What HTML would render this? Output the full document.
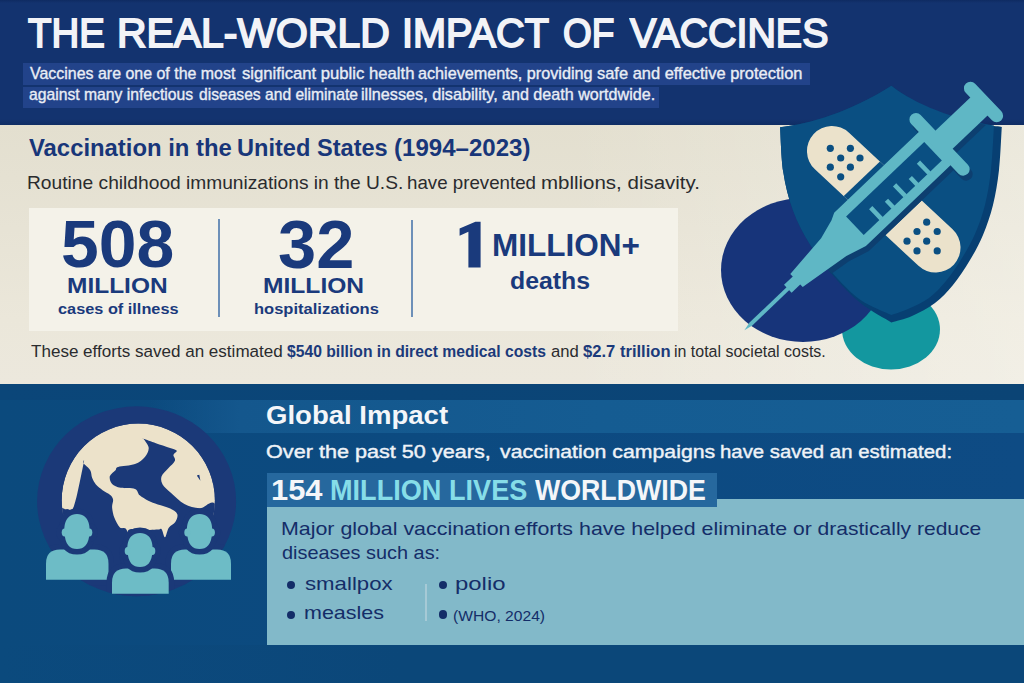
<!DOCTYPE html>
<html><head><meta charset="utf-8"><title>The Real-World Impact of Vaccines</title>
<style>
html,body{margin:0;padding:0;}
body{width:1024px;height:683px;overflow:hidden;position:relative;font-family:'Liberation Sans', sans-serif;background:#e5e1d2;}
.abs{position:absolute;}
.t{position:absolute;white-space:nowrap;line-height:1;transform-origin:0 0;}
.t b{font-weight:700;}
</style></head><body>
<div class="abs" style="left:0;top:0;width:1024px;height:125px;background:linear-gradient(180deg,#0f2b62 0px,#13336f 3px,#13336f 119px,#0f2d64 125px)"></div>
<div class="abs" style="left:23px;top:63px;width:787px;height:22px;background:#22438a"></div>
<div class="abs" style="left:23px;top:87px;width:636px;height:20.5px;background:#22438a"></div>
<div class="abs" style="left:0;top:125px;width:1024px;height:259px;background:linear-gradient(180deg,#e3dfcf 0%,#e7e3d5 40%,#ebe7da 75%,#ece8dd 100%)"></div>
<div class="abs" style="left:0;top:125px;width:1024px;height:259px;background:linear-gradient(90deg,rgba(255,255,250,0) 55%,rgba(255,255,250,0.3) 100%)"></div>
<div class="abs" style="left:29px;top:208px;width:649px;height:123px;background:#f4f2e9"></div>
<div class="abs" style="left:218.3px;top:219px;width:2px;height:98px;background:#6d90b8"></div>
<div class="abs" style="left:410.7px;top:219.6px;width:2px;height:97px;background:#6d90b8"></div>
<div class="abs" style="left:0;top:384px;width:1024px;height:299px;background:linear-gradient(90deg,#0b4a7d 0%,#0c4a80 40%,#0e4b84 100%)"></div>
<div class="abs" style="left:0;top:384px;width:1024px;height:16px;background:linear-gradient(90deg,#0b4679 0%,#0b4577 40%,#0b4475 100%)"></div>
<div class="abs" style="left:0;top:400px;width:1024px;height:33px;background:linear-gradient(90deg,rgba(21,93,147,0) 0px,rgba(21,93,147,0) 150px,#14578d 240px,#155c92 600px,#165e94 1024px)"></div>
<div class="abs" style="left:267px;top:499px;width:757px;height:146px;background:#82b9c9"></div>
<div class="abs" style="left:267px;top:472.5px;width:449.5px;height:34px;background:#26689e"></div>
<div class="abs" style="left:0;top:644.5px;width:1024px;height:39px;background:linear-gradient(90deg,rgba(11,73,124,0) 0px,rgba(11,71,121,0.6) 260px,#0b4779 400px,#0b4779 1024px)"></div>
<div class="abs" style="left:425px;top:584px;width:1.5px;height:37px;background:#a6cad6"></div>
<div class="abs" style="left:287px;top:580.7px;width:8.2px;height:8.2px;border-radius:50%;background:#142d68"></div>
<div class="abs" style="left:287px;top:610.7px;width:8.2px;height:8.2px;border-radius:50%;background:#142d68"></div>
<div class="abs" style="left:438.9px;top:580.7px;width:8.2px;height:8.2px;border-radius:50%;background:#142d68"></div>
<div class="abs" style="left:438.9px;top:610.4px;width:8.2px;height:8.2px;border-radius:50%;background:#142d68"></div>
<svg class="abs" style="left:0;top:0" width="1024" height="683" viewBox="0 0 1024 683">
<defs><clipPath id="gInner"><circle cx="138.3" cy="500.2" r="76.6"/></clipPath><clipPath id="gOuter"><ellipse cx="136.6" cy="501.3" rx="99.5" ry="95"/></clipPath></defs>
<ellipse cx="136.6" cy="501.3" rx="99.5" ry="95" fill="#1b3978"/>
<g clip-path="url(#gInner)">
<circle cx="138.3" cy="500.2" r="76.6" fill="#ece2ca"/>
<g fill="#1b3978"><path d="M55.0,511.1 C56.9,501.5 63.2,510.1 66.4,509.2 C69.6,508.4 71.2,513.6 74.0,506.0 C76.9,498.4 82.0,470.6 83.6,463.5 C85.1,456.5 82.4,462.4 83.6,463.5 C84.7,464.7 88.8,467.8 90.2,470.2 C91.6,472.6 91.2,475.4 92.1,477.8 C93.1,480.2 94.2,482.4 95.9,484.5 C97.7,486.5 100.2,488.5 102.6,490.2 C105.0,491.9 108.5,493.4 110.2,495.0 C112.0,496.5 112.7,497.7 113.1,499.7 C113.4,501.8 111.9,504.3 112.1,507.3 C112.3,510.3 113.1,514.5 114.4,517.8 C115.7,521.1 117.6,524.9 119.7,527.3 C121.9,529.7 126.1,525.4 127.3,532.1 C128.6,538.7 139.4,561.4 127.3,567.3 C115.3,573.2 67.1,576.7 55.0,567.3 C42.9,557.9 53.1,520.8 55.0,511.1 Z"/><path d="M143.5,438.8 C142.7,437.3 141.5,438.1 143.5,438.8 C145.6,439.5 151.6,441.7 155.9,443.2 C160.2,444.7 165.7,446.5 169.2,447.7 C172.7,449.0 176.1,449.6 176.8,450.8 C177.5,452.0 173.7,453.3 173.4,455.0 C173.1,456.6 175.8,458.5 174.9,460.7 C174.1,462.9 170.5,465.7 168.3,468.3 C166.0,470.9 162.6,473.6 161.6,476.3 C160.7,479.0 161.0,481.7 162.6,484.5 C164.1,487.3 167.5,489.8 171.1,493.1 C174.8,496.3 179.7,501.6 184.4,504.1 C189.2,506.6 194.3,507.9 199.7,508.3 C205.1,508.7 212.4,496.5 216.8,506.4 C221.3,516.2 241.2,557.1 226.3,567.3 C211.4,577.4 143.8,573.2 127.3,567.3 C110.8,561.4 125.1,538.2 127.3,532.1 C129.6,526.0 135.6,531.2 140.7,530.7 C145.7,530.3 154.3,529.9 157.8,529.6 C161.3,529.3 160.4,528.0 161.6,529.2 C162.8,530.5 163.8,537.5 165.0,537.2 C166.2,537.0 167.1,530.2 168.8,527.7 C170.6,525.2 173.9,524.3 175.3,522.0 C176.7,519.7 178.2,516.3 177.2,514.0 C176.3,511.7 172.8,509.9 169.6,508.3 C166.4,506.7 161.4,505.7 157.8,504.5 C154.2,503.2 151.3,502.2 148.3,500.7 C145.3,499.1 141.9,497.3 139.7,495.3 C137.5,493.4 138.1,490.1 135.0,488.9 C131.8,487.6 124.5,488.5 120.7,487.7 C116.9,486.9 113.9,485.8 112.1,483.9 C110.3,482.0 109.3,478.6 109.8,476.3 C110.4,474.0 114.1,471.8 115.5,470.2 C116.9,468.7 115.0,468.0 118.2,467.0 C121.4,466.0 130.5,465.8 135.0,464.1 C139.4,462.4 142.6,459.6 144.9,456.9 C147.1,454.2 148.9,450.8 148.7,447.7 C148.4,444.7 144.4,440.3 143.5,438.8 Z"/><polygon points="196.8,475.5 199.3,474.8 200.4,480.7"/></g>
</g>
<g clip-path="url(#gOuter)" fill="#1b3978" stroke="#1b3978" stroke-width="11.0" stroke-linejoin="round"><path d="M46,579.7 L46,563.5 Q46,549.5 60,549.5 L94.5,549.5 Q108.5,549.5 108.5,563.5 L108.5,579.7 Z"/></g><path d="M46,579.7 L46,563.5 Q46,549.5 60,549.5 L94.5,549.5 Q108.5,549.5 108.5,563.5 L108.5,579.7 Z" fill="#6dbcc6"/><g clip-path="url(#gOuter)" fill="#1b3978" stroke="#1b3978" stroke-width="11.0"><path d="M77,514 C90.44,514 89.8,529.5 89.544,531.5 C89.16,545 84.04,549 77,549 C69.96,549 64.84,545 64.456,531.5 C64.2,529.5 63.56,514 77,514 Z"/><ellipse cx="64.7" cy="532.5" rx="3" ry="4"/><ellipse cx="89.3" cy="532.5" rx="3" ry="4"/></g><g fill="#6dbcc6"><path d="M77,514 C90.44,514 89.8,529.5 89.544,531.5 C89.16,545 84.04,549 77,549 C69.96,549 64.84,545 64.456,531.5 C64.2,529.5 63.56,514 77,514 Z"/><ellipse cx="64.7" cy="532.5" rx="3" ry="4"/><ellipse cx="89.3" cy="532.5" rx="3" ry="4"/></g>
<g clip-path="url(#gOuter)" fill="#1b3978" stroke="#1b3978" stroke-width="11.0" stroke-linejoin="round"><path d="M171,579.7 L171,563.5 Q171,549.5 185,549.5 L217,549.5 Q231,549.5 231,563.5 L231,579.7 Z"/></g><path d="M171,579.7 L171,563.5 Q171,549.5 185,549.5 L217,549.5 Q231,549.5 231,563.5 L231,579.7 Z" fill="#6dbcc6"/><g clip-path="url(#gOuter)" fill="#1b3978" stroke="#1b3978" stroke-width="11.0"><path d="M199.6,514 C213.04,514 212.4,529.5 212.144,531.5 C211.76,545 206.64,549 199.6,549 C192.56,549 187.44,545 187.05599999999998,531.5 C186.79999999999998,529.5 186.16,514 199.6,514 Z"/><ellipse cx="187.29999999999998" cy="532.5" rx="3" ry="4"/><ellipse cx="211.9" cy="532.5" rx="3" ry="4"/></g><g fill="#6dbcc6"><path d="M199.6,514 C213.04,514 212.4,529.5 212.144,531.5 C211.76,545 206.64,549 199.6,549 C192.56,549 187.44,545 187.05599999999998,531.5 C186.79999999999998,529.5 186.16,514 199.6,514 Z"/><ellipse cx="187.29999999999998" cy="532.5" rx="3" ry="4"/><ellipse cx="211.9" cy="532.5" rx="3" ry="4"/></g>
<g clip-path="url(#gOuter)" fill="#1b3978" stroke="#1b3978" stroke-width="11.0" stroke-linejoin="round"><path d="M112,593.7 L112,582.5 Q112,568.5 126,568.5 L154.7,568.5 Q168.7,568.5 168.7,582.5 L168.7,593.7 Z"/></g><path d="M112,593.7 L112,582.5 Q112,568.5 126,568.5 L154.7,568.5 Q168.7,568.5 168.7,582.5 L168.7,593.7 Z" fill="#6dbcc6"/><g clip-path="url(#gOuter)" fill="#1b3978" stroke="#1b3978" stroke-width="11.0"><path d="M140,533 C153.44,533 152.8,548.0 152.544,550.0 C152.16,563 147.04,567 140,567 C132.96,567 127.84,563 127.456,550.0 C127.2,548.0 126.56,533 140,533 Z"/><ellipse cx="127.7" cy="551.0" rx="3" ry="4"/><ellipse cx="152.3" cy="551.0" rx="3" ry="4"/></g><g fill="#6dbcc6"><path d="M140,533 C153.44,533 152.8,548.0 152.544,550.0 C152.16,563 147.04,567 140,567 C132.96,567 127.84,563 127.456,550.0 C127.2,548.0 126.56,533 140,533 Z"/><ellipse cx="127.7" cy="551.0" rx="3" ry="4"/><ellipse cx="152.3" cy="551.0" rx="3" ry="4"/></g>
</svg>
<svg class="abs" style="left:0;top:0" width="1024" height="683" viewBox="0 0 1024 683">
<defs><clipPath id="shClip"><path d="M780.1,127.2 C810,124 850,112 891.4,85.8 C915,105 960,123 1001.8,127 C1001.3,134.2 1000.5,157.0 999.0,170.0 C997.5,183.0 995.7,194.2 993.0,205.0 C990.3,215.8 986.8,225.8 983.0,235.0 C979.2,244.2 975.0,251.7 970.0,260.0 C965.0,268.3 958.8,277.8 953.0,285.0 C947.2,292.2 941.2,298.1 935.0,303.0 C928.8,307.9 922.6,311.4 916.0,314.5 C909.4,317.6 898.9,320.3 895.5,321.5 C890.1,318.6 873.4,311.6 863.0,304.0 C852.6,296.4 842.2,285.8 833.4,276.0 C824.6,266.2 817.0,256.1 810.3,245.1 C803.5,234.2 797.4,222.6 792.9,210.3 C788.4,198.1 785.3,185.4 783.2,171.6 C781.1,157.8 780.6,134.6 780.1,127.2 Z"/></clipPath>
<clipPath id="bdClip"><rect transform="translate(883.75 199.3) rotate(43)" x="-95.8" y="-25" width="191.6" height="50" rx="25"/></clipPath></defs>
<ellipse cx="891" cy="329.5" rx="49" ry="40" fill="#13979f"/>
<ellipse cx="803" cy="270" rx="82" ry="72" fill="#17347a"/>
<path d="M780.1,127.2 C810,124 850,112 891.4,85.8 C915,105 960,123 1001.8,127 C1001.3,134.2 1000.5,157.0 999.0,170.0 C997.5,183.0 995.7,194.2 993.0,205.0 C990.3,215.8 986.8,225.8 983.0,235.0 C979.2,244.2 975.0,251.7 970.0,260.0 C965.0,268.3 958.8,277.8 953.0,285.0 C947.2,292.2 941.8,297.8 935.0,303.0 C928.2,308.2 919.3,312.8 912.0,316.0 C904.7,319.2 894.8,321.3 891.4,322.4 C886.2,319.2 870.2,310.7 860.5,303.0 C850.8,295.3 841.8,285.6 833.4,276.0 C825.0,266.4 817.0,256.1 810.3,245.1 C803.5,234.2 797.4,222.6 792.9,210.3 C788.4,198.1 785.3,185.4 783.2,171.6 C781.1,157.8 780.6,134.6 780.1,127.2 Z" fill="#073f72"/>
<path d="M780.1,127.2 C810,124 850,112 891.4,85.8 C914,104 955,120 994,125.5 C993.5,132.9 992.5,156.8 991.0,170.0 C989.5,183.2 987.7,194.3 985.0,205.0 C982.3,215.7 978.8,225.2 975.0,234.0 C971.2,242.8 966.8,250.2 962.0,258.0 C957.2,265.8 951.5,274.3 946.0,281.0 C940.5,287.7 935.3,293.3 929.0,298.0 C922.7,302.7 914.3,306.2 908.0,309.0 C901.7,311.8 894.2,314.0 891.4,315.0 C886.2,312.5 870.2,306.8 860.5,300.0 C850.8,293.2 841.8,283.1 833.4,274.0 C825.0,264.9 817.0,255.7 810.3,245.1 C803.5,234.5 797.4,222.6 792.9,210.3 C788.4,198.1 785.3,185.4 783.2,171.6 C781.1,157.8 780.6,134.6 780.1,127.2 Z" fill="#0a4f82"/>
<g transform="translate(883.75 199.3) rotate(43)"><rect x="-95.8" y="-25" width="191.6" height="50" rx="25" fill="#ebe2cb"/></g>
<g fill="#0a4f82"><circle cx="830.3" cy="148.3" r="3.6"/><circle cx="850.4" cy="148.3" r="3.6"/><circle cx="840.7" cy="158" r="3.6"/><circle cx="860" cy="158" r="3.6"/><circle cx="830.3" cy="167.2" r="3.6"/><circle cx="850.4" cy="167.2" r="3.6"/><circle cx="840.7" cy="176.8" r="3.6"/><circle cx="926.7" cy="222.2" r="3.6"/><circle cx="917" cy="231.5" r="3.6"/><circle cx="937.2" cy="231.5" r="3.6"/><circle cx="907" cy="241.2" r="3.6"/><circle cx="926.7" cy="241.2" r="3.6"/><circle cx="917" cy="250.9" r="3.6"/><circle cx="937.2" cy="250.9" r="3.6"/></g>
<g clip-path="url(#bdClip)"><rect transform="translate(744.4 330.2) rotate(-43.65)" x="120" y="-28.5" width="160" height="57" fill="#0a4f82"/></g>
<g clip-path="url(#shClip)"><g transform="translate(3 5)"><g transform="translate(744.4 330.2) rotate(-43.65)" fill="#0d3f70"><path d="M72,-9 L119,-13.6 L139,-19.5 L146,-23 L264,-23 L264,23 L146,23 L125,16.7 L72,9 Z"/><rect x="263" y="-40.5" width="13" height="81.5" rx="6.5"/><rect x="274" y="-12.5" width="52" height="25"/><rect x="324" y="-25.5" width="13" height="51" rx="6.5"/></g></g></g>
<g transform="translate(744.4 330.2) rotate(-43.65)" fill="#5fb7c5">
<path d="M0,0 L9,-2 L62,-2 L62,2 L9,2 Z"/><path d="M60,-5.5 L74,-5.5 L74,5.5 L60,5.5 Z"/><path d="M72,-9 L119,-13.6 L139,-19.5 L146,-23 L264,-23 L264,23 L146,23 L125,16.7 L72,9 Z"/><rect x="263" y="-40.5" width="13" height="81.5" rx="6.5"/><rect x="274" y="-12.5" width="52" height="25"/><rect x="324" y="-25.5" width="13" height="51" rx="6.5"/><rect x="152" y="-12" width="108" height="25.5" fill="#0a4f82"/>
<rect x="173.75" y="-1.5" width="4.5" height="15.5"/><rect x="190.25" y="4" width="4.5" height="10"/><rect x="206.75" y="-1.5" width="4.5" height="15.5"/><rect x="223.25" y="4" width="4.5" height="10"/><rect x="239.75" y="-1.5" width="4.5" height="15.5"/>
</g>
</svg>
<svg class="abs" style="left:0;top:0" width="1024" height="683"><path d="M475.4 221.8H480.6V267.5H468.4V231.8L459.6 235.8V228.6Z" fill="#1a3a7c"/></svg>
<div class="t" id="title0" style="left:27.80px;top:13.06px;font-size:41.22px;font-weight:400;color:#f2f3f7;transform:scaleX(0.9311);-webkit-text-stroke:1.86px #f2f3f7">THE</div>
<div class="t" id="title1" style="left:117.15px;top:13.06px;font-size:41.22px;font-weight:400;color:#f2f3f7;transform:scaleX(0.9924);-webkit-text-stroke:1.86px #f2f3f7">REAL-WORLD</div>
<div class="t" id="title2" style="left:401.52px;top:13.06px;font-size:41.22px;font-weight:400;color:#f2f3f7;transform:scaleX(0.9623);-webkit-text-stroke:1.86px #f2f3f7">IMPACT</div>
<div class="t" id="title3" style="left:562.99px;top:13.06px;font-size:41.22px;font-weight:400;color:#f2f3f7;transform:scaleX(0.8961);-webkit-text-stroke:1.86px #f2f3f7">OF</div>
<div class="t" id="title4" style="left:630.08px;top:13.06px;font-size:41.22px;font-weight:400;color:#f2f3f7;transform:scaleX(0.9554);-webkit-text-stroke:1.86px #f2f3f7">VACCINES</div>
<div class="t" id="sub1_0" style="left:30.26px;top:65.73px;font-size:15.73px;font-weight:400;color:#e9edf5;transform:scaleX(1.0145);-webkit-text-stroke:0.35px #e9edf5">Vaccines are one of the most</div>
<div class="t" id="sub1_1" style="left:241.77px;top:65.73px;font-size:15.73px;font-weight:400;color:#e9edf5;transform:scaleX(1.0608);-webkit-text-stroke:0.35px #e9edf5">significant public health</div>
<div class="t" id="sub1_2" style="left:417.91px;top:65.73px;font-size:15.73px;font-weight:400;color:#e9edf5;transform:scaleX(1.0296);-webkit-text-stroke:0.35px #e9edf5">achievements, providing</div>
<div class="t" id="sub1_3" style="left:596.67px;top:65.73px;font-size:15.73px;font-weight:400;color:#e9edf5;transform:scaleX(1.0465);-webkit-text-stroke:0.35px #e9edf5">safe and effective protection</div>
<div class="t" id="sub2_0" style="left:28.83px;top:87.23px;font-size:15.73px;font-weight:400;color:#e9edf5;transform:scaleX(0.9992);-webkit-text-stroke:0.35px #e9edf5">against many infectious</div>
<div class="t" id="sub2_1" style="left:198.53px;top:87.23px;font-size:15.73px;font-weight:400;color:#e9edf5;transform:scaleX(0.9941);-webkit-text-stroke:0.35px #e9edf5">diseases and eliminate</div>
<div class="t" id="sub2_2" style="left:361.43px;top:87.23px;font-size:15.73px;font-weight:400;color:#e9edf5;transform:scaleX(1.0314);-webkit-text-stroke:0.35px #e9edf5">illnesses, disability,</div>
<div class="t" id="sub2_3" style="left:501.82px;top:87.23px;font-size:15.73px;font-weight:400;color:#e9edf5;transform:scaleX(1.0250);-webkit-text-stroke:0.35px #e9edf5">and death wortdwide.</div>
<div class="t" id="h2_0" style="left:28.56px;top:136.37px;font-size:23.91px;font-weight:700;color:#183679;transform:scaleX(0.9980);">Vaccination in the</div>
<div class="t" id="h2_1" style="left:236.88px;top:136.37px;font-size:23.91px;font-weight:700;color:#183679;transform:scaleX(0.9866);">United States</div>
<div class="t" id="h2_2" style="left:394.40px;top:136.37px;font-size:23.91px;font-weight:700;color:#183679;transform:scaleX(1.0068);">(1994–2023)</div>
<div class="t" id="p1_0" style="left:27.26px;top:172.64px;font-size:19.13px;font-weight:400;color:#2a2b2e;transform:scaleX(1.0049);">Routine childhood</div>
<div class="t" id="p1_1" style="left:186.16px;top:172.64px;font-size:19.13px;font-weight:400;color:#2a2b2e;transform:scaleX(1.0029);">immunizations in the U.S.</div>
<div class="t" id="p1_2" style="left:406.99px;top:172.64px;font-size:19.13px;font-weight:400;color:#2a2b2e;transform:scaleX(0.9790);">have prevented</div>
<div class="t" id="p1_3" style="left:541.07px;top:172.64px;font-size:19.13px;font-weight:400;color:#2a2b2e;transform:scaleX(1.0716);">mbllions, disavity.</div>
<div class="t" id="n508" style="left:61.26px;top:210.49px;font-size:67.54px;font-weight:700;color:#1a3a7c;transform:scaleX(1.0052);">508</div>
<div class="t" id="m1" style="left:67.09px;top:274.50px;font-size:21.88px;font-weight:700;color:#1a3a7c;transform:scaleX(1.1188);">MILLION</div>
<div class="t" id="c1" style="left:57.55px;top:301.91px;font-size:14.93px;font-weight:700;color:#1a3a7c;transform:scaleX(1.0930);">cases of illness</div>
<div class="t" id="n32" style="left:277.93px;top:210.00px;font-size:68.12px;font-weight:700;color:#1a3a7c;transform:scaleX(1.0067);">32</div>
<div class="t" id="m2" style="left:262.88px;top:273.64px;font-size:22.90px;font-weight:700;color:#1a3a7c;transform:scaleX(1.0747);">MILLION</div>
<div class="t" id="c2" style="left:253.94px;top:301.91px;font-size:14.93px;font-weight:700;color:#1a3a7c;transform:scaleX(1.1072);">hospitalizations</div>
<div class="t" id="m3" style="left:492.19px;top:230.44px;font-size:31.59px;font-weight:700;color:#1a3a7c;transform:scaleX(0.9979);">MILLION+</div>
<div class="t" id="c3" style="left:510.01px;top:268.69px;font-size:24.25px;font-weight:700;color:#1a3a7c;transform:scaleX(1.0245);">deaths</div>
<div class="t" id="p2a" style="left:31.36px;top:342.96px;font-size:17.10px;font-weight:400;color:#2a2b2e;transform:scaleX(0.9974);">These efforts saved an estimated</div>
<div class="t" id="p2b" style="left:287.09px;top:342.96px;font-size:17.10px;font-weight:700;color:#1b3a7a;transform:scaleX(0.9180);">$540 billion in direct medical costs</div>
<div class="t" id="p2c" style="left:550.63px;top:342.96px;font-size:17.10px;font-weight:400;color:#2a2b2e;transform:scaleX(0.9746);">and</div>
<div class="t" id="p2d" style="left:583.47px;top:342.96px;font-size:17.10px;font-weight:700;color:#1b3a7a;transform:scaleX(0.9705);">$2.7 trillion</div>
<div class="t" id="p2e" style="left:674.38px;top:342.96px;font-size:17.10px;font-weight:400;color:#2a2b2e;transform:scaleX(0.9341);">in total societal costs.</div>
<div class="t" id="h3" style="left:265.70px;top:402.72px;font-size:25.51px;font-weight:700;color:#f4f6f9;transform:scaleX(1.0799);">Global Impact</div>
<div class="t" id="p3_0" style="left:266.23px;top:442.26px;font-size:19.10px;font-weight:400;color:#eef2f7;transform:scaleX(1.1327);-webkit-text-stroke:0.42px #eef2f7">Over the past 50 years,</div>
<div class="t" id="p3_1" style="left:499.91px;top:442.26px;font-size:19.10px;font-weight:400;color:#eef2f7;transform:scaleX(1.1139);-webkit-text-stroke:0.42px #eef2f7">vaccination campaigns</div>
<div class="t" id="p3_2" style="left:720.08px;top:442.26px;font-size:19.10px;font-weight:400;color:#eef2f7;transform:scaleX(1.0666);-webkit-text-stroke:0.42px #eef2f7">have saved an estimated:</div>
<div class="t" id="big1" style="left:271.35px;top:474.69px;font-size:29.42px;font-weight:700;color:#f4f6f9;transform:scaleX(1.0494);">154</div>
<div class="t" id="big2" style="left:329.50px;top:474.69px;font-size:29.42px;font-weight:700;color:#86dde8;transform:scaleX(0.9220);">MILLION LIVES</div>
<div class="t" id="big3" style="left:534.70px;top:474.69px;font-size:29.42px;font-weight:700;color:#f4f6f9;transform:scaleX(0.9094);">WORLDWIDE</div>
<div class="t" id="p4_0" style="left:280.89px;top:519.83px;font-size:18.55px;font-weight:400;color:#142d68;transform:scaleX(1.1540);">Major global vaccination</div>
<div class="t" id="p4_1" style="left:514.14px;top:519.83px;font-size:18.55px;font-weight:400;color:#142d68;transform:scaleX(1.1542);">efforts have helped eliminate</div>
<div class="t" id="p4_2" style="left:792.66px;top:519.83px;font-size:18.55px;font-weight:400;color:#142d68;transform:scaleX(1.1353);">or drastically reduce</div>
<div class="t" id="p5" style="left:281.50px;top:543.53px;font-size:18.55px;font-weight:400;color:#142d68;transform:scaleX(1.0733);">diseases such as:</div>
<div class="t" id="li1" style="left:304.53px;top:575.60px;font-size:17.53px;font-weight:400;color:#142d68;transform:scaleX(1.2678);">smallpox</div>
<div class="t" id="li2" style="left:304.29px;top:605.40px;font-size:17.53px;font-weight:400;color:#142d68;transform:scaleX(1.2273);">measles</div>
<div class="t" id="li3" style="left:454.52px;top:575.80px;font-size:17.53px;font-weight:400;color:#142d68;transform:scaleX(1.3659);">polio</div>
<div class="t" id="li4" style="left:452.56px;top:607.62px;font-size:15.51px;font-weight:400;color:#142d68;transform:scaleX(1.0081);">(WHO, 2024)</div>
</body></html>
